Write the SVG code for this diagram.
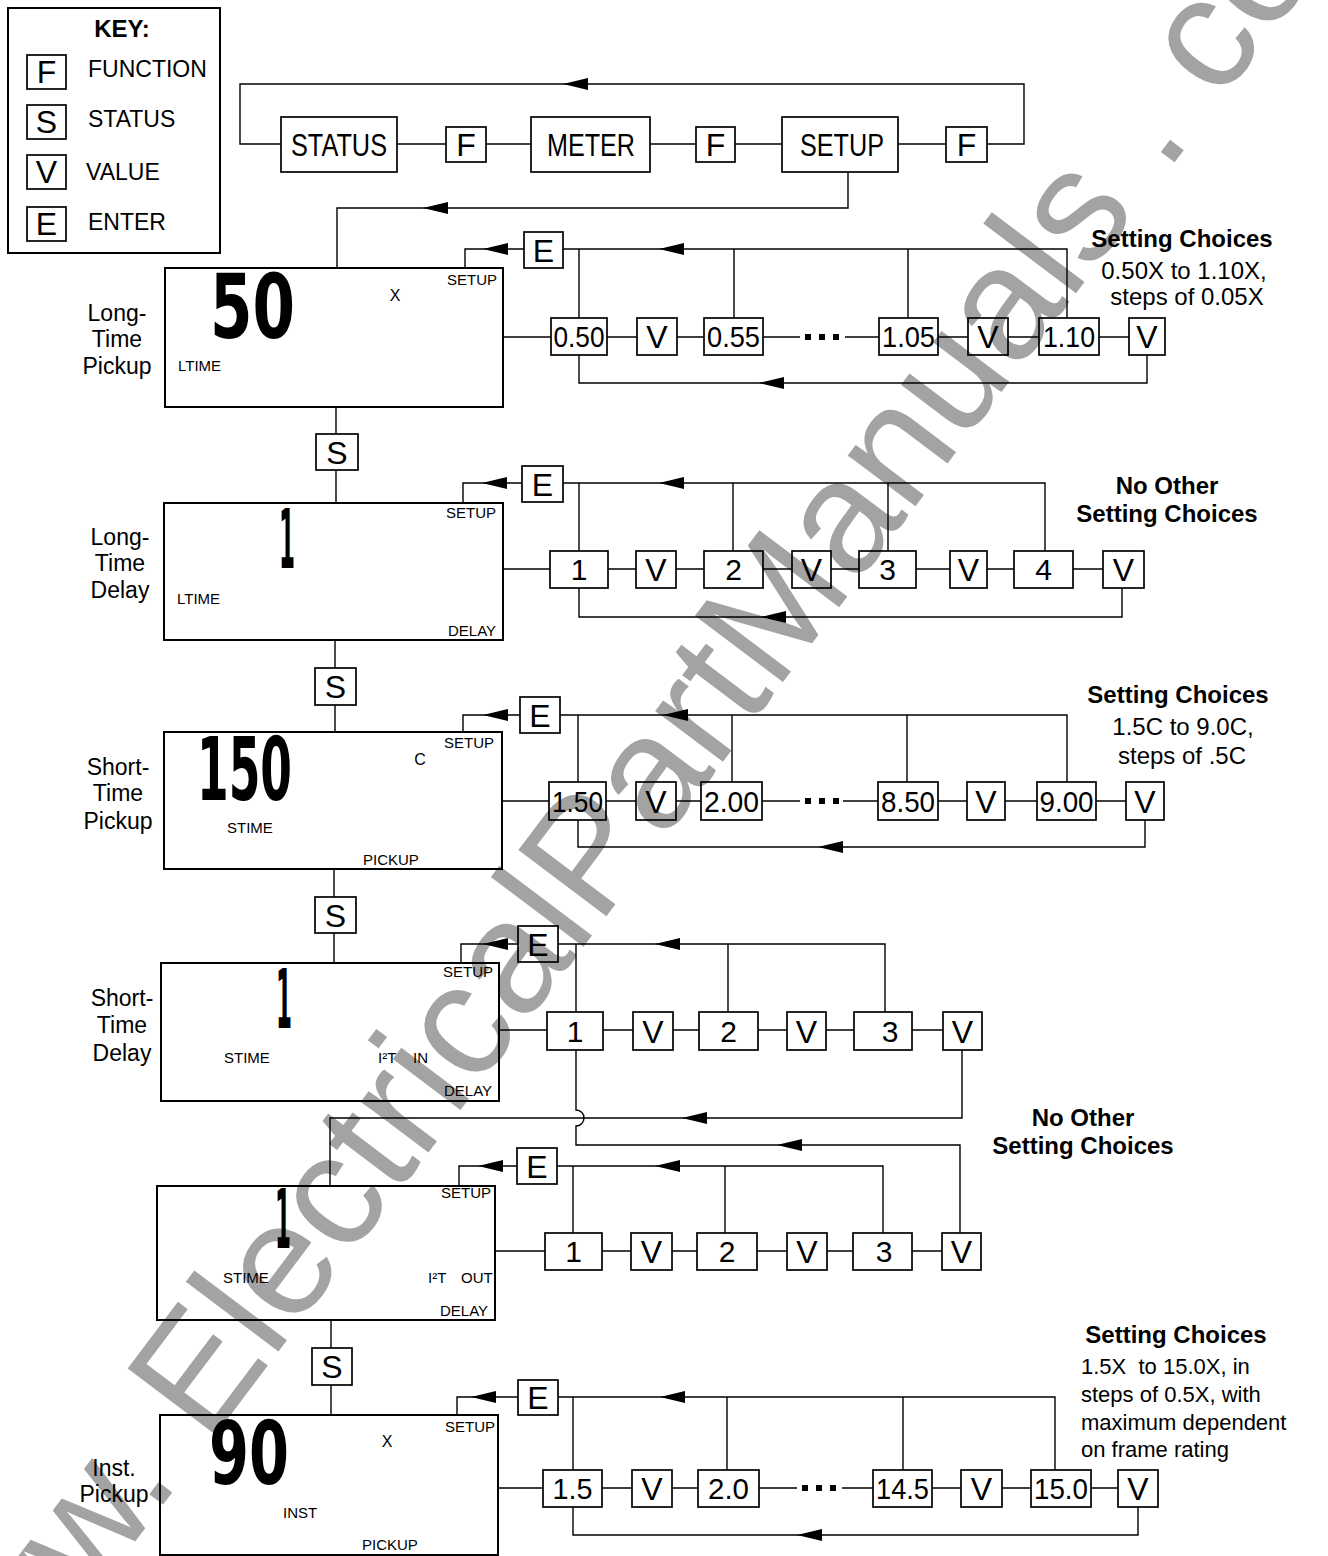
<svg xmlns="http://www.w3.org/2000/svg" width="1328" height="1556" viewBox="0 0 1328 1556">
<style>
text{font-family:"Liberation Sans",Arial,sans-serif;fill:#000}
.box{fill:none;stroke:#000;stroke-width:1.7}
.lcd{fill:none;stroke:#000;stroke-width:2}
.ln{fill:none;stroke:#000;stroke-width:1.4}
.k{font-size:32px;text-anchor:middle}
.n{font-size:30px;text-anchor:middle}
.big{font-size:32px;text-anchor:middle}
.lab{font-size:23px;text-anchor:middle}
.kl{font-size:23px}
.sm{font-size:15px}
.b{font-size:24px;font-weight:bold;text-anchor:middle}
.r{font-size:24px;text-anchor:middle}
.rl{font-size:22px}
.seg{font-family:"DejaVu Sans",sans-serif;font-weight:bold}
.wm{font-size:160px;fill:#a3a3a3}
</style>
<defs>
<path id="ah" d="M0 0 L25 -6 L25 6 Z" fill="#000"/>
</defs>
<text class="wm" transform="translate(-49,1786) rotate(-53)">www. ElectricalPartManuals . com</text>

<g id="key">
<rect class="lcd" x="8" y="8" width="212" height="245"/>
<text x="122" y="37" font-size="24" font-weight="bold" text-anchor="middle">KEY:</text>
<rect class="box" x="27" y="55" width="39" height="34"/><text class="k" x="46.5" y="83">F</text><text class="kl" x="88" y="77">FUNCTION</text>
<rect class="box" x="27" y="105" width="39" height="34"/><text class="k" x="46.5" y="133">S</text><text class="kl" x="88" y="127">STATUS</text>
<rect class="box" x="27" y="155" width="39" height="34"/><text class="k" x="46.5" y="183">V</text><text class="kl" x="86" y="180">VALUE</text>
<rect class="box" x="27" y="207" width="39" height="34"/><text class="k" x="46.5" y="235">E</text><text class="kl" x="88" y="230">ENTER</text>
</g>

<g id="connectors">
<!-- top loop -->
<path class="ln" d="M281 144 H240 V84 H1024 V144 H987 M397 144 H446 M486 144 H531 M650 144 H696 M735 144 H782 M898 144 H946 M848 172 V208 H337 V268"/>
<use href="#ah" x="563" y="84"/>
<use href="#ah" x="423" y="208"/>
<!-- row1 -->
<path class="ln" d="M465 268 V249 H524 M563 249 H1067 V318 M579 249 V318 M734 249 V318 M908 249 V318 M503 337 H551 M607 337 H637 M677 337 H704 M763 337 H800 M845 337 H879 M938 337 H968 M1008 337 H1039 M1099 337 H1129 M1147 355 V383 H579 V355 M336 407 V434 M336 470 V503"/>
<use href="#ah" x="483" y="249"/><use href="#ah" x="659" y="249"/><use href="#ah" x="759" y="383"/>
<!-- row2 -->
<path class="ln" d="M463 503 V483 H522 M563 483 H1045 V551 M579 483 V551 M733 483 V551 M888 483 V551 M503 569 H550 M608 569 H636 M676 569 H704 M763 569 H792 M831 569 H859 M916 569 H950 M987 569 H1014 M1073 569 H1103 M1122 588 V617 H579 V588 M335 640 V668 M335 705 V732"/>
<use href="#ah" x="482" y="483"/><use href="#ah" x="659" y="483"/><use href="#ah" x="761" y="617"/>
<!-- row3 -->
<path class="ln" d="M463 732 V715 H520 M560 715 H1067 V782 M578 715 V782 M732 715 V782 M907 715 V782 M502 801 H549 M606 801 H636 M676 801 H701 M762 801 H800 M843 801 H878 M938 801 H967 M1005 801 H1037 M1096 801 H1126 M1145 820 V847 H578 V820 M334 869 V897 M334 933 V963"/>
<use href="#ah" x="483" y="715"/><use href="#ah" x="663" y="715"/><use href="#ah" x="818" y="847"/>
<!-- row4 -->
<path class="ln" d="M461 963 V944 H518 M558 944 H885 V1012 M576 944 V1012 M728 944 V1012 M499 1030 H547 M603 1030 H633 M673 1030 H699 M758 1030 H787 M826 1030 H854 M912 1030 H943 M962 1050 V1118 H330 V1186 M576 1050 V1110 A8 8 0 0 1 576 1126 V1145 H960 V1233"/>
<use href="#ah" x="483" y="944"/><use href="#ah" x="655" y="944"/><use href="#ah" x="682" y="1118"/><use href="#ah" x="777" y="1145"/>
<!-- row5 -->
<path class="ln" d="M459 1186 V1166 H517 M557 1166 H883 V1233 M573 1166 V1233 M725 1166 V1233 M495 1251 H545 M602 1251 H631 M672 1251 H697 M757 1251 H787 M827 1251 H853 M912 1251 H942 M331 1320 V1348 M331 1385 V1415"/>
<use href="#ah" x="478" y="1166"/><use href="#ah" x="655" y="1166"/>
<!-- row6 -->
<path class="ln" d="M457 1415 V1397 H518 M558 1397 H1055 V1470 M573 1397 V1470 M727 1397 V1470 M903 1397 V1470 M498 1488 H543 M602 1488 H632 M672 1488 H698 M759 1488 H797 M842 1488 H873 M932 1488 H961 M1002 1488 H1031 M1091 1488 H1118 M1138 1507 V1535 H573 V1507"/>
<use href="#ah" x="471" y="1397"/><use href="#ah" x="660" y="1397"/><use href="#ah" x="797" y="1535"/>
</g>

<g id="top-row">
<g id="status"><rect class="box" x="281" y="117" width="116" height="55"/><text class="big" x="339" y="156" textLength="96" lengthAdjust="spacingAndGlyphs">STATUS</text></g>
<g id="f1"><rect class="box" x="446" y="127" width="40" height="35"/><text class="k" x="466" y="156">F</text></g>
<g id="meter"><rect class="box" x="531" y="117" width="119" height="55"/><text class="big" x="591" y="156" textLength="88" lengthAdjust="spacingAndGlyphs">METER</text></g>
<g id="f2"><rect class="box" x="696" y="127" width="39" height="35"/><text class="k" x="715.5" y="156">F</text></g>
<g id="setup"><rect class="box" x="782" y="117" width="116" height="55"/><text class="big" x="842" y="156" textLength="84" lengthAdjust="spacingAndGlyphs">SETUP</text></g>
<g id="f3"><rect class="box" x="946" y="127" width="41" height="35"/><text class="k" x="966.5" y="156">F</text></g>
</g>

<!-- Row 1 -->
<g id="lcd1">
<text class="lab" x="117" y="321">Long-</text><text class="lab" x="117" y="347">Time</text><text class="lab" x="117" y="374">Pickup</text>
<rect class="lcd" x="165" y="268" width="338" height="139"/>
<text class="seg" x="210" y="338" font-size="89" textLength="85" lengthAdjust="spacingAndGlyphs">50</text>
<text x="395" y="301" font-size="16" text-anchor="middle">X</text>
<text class="sm" x="447" y="285">SETUP</text>
<text class="sm" x="178" y="371">LTIME</text>
</g>
<g id="row1-nodes">
<g><rect class="box" x="524" y="232" width="39" height="36"/><text class="k" x="543.5" y="262">E</text></g>
<g><rect class="box" x="551" y="318" width="56" height="37"/><text class="n" x="579" y="347" textLength="51" lengthAdjust="spacingAndGlyphs">0.50</text></g>
<g><rect class="box" x="637" y="318" width="40" height="37"/><text class="k" x="657" y="348">V</text></g>
<g><rect class="box" x="704" y="318" width="59" height="37"/><text class="n" x="733.5" y="347" textLength="53" lengthAdjust="spacingAndGlyphs">0.55</text></g>
<rect x="805" y="334" width="6" height="6"/><rect x="819" y="334" width="6" height="6"/><rect x="833" y="334" width="6" height="6"/>
<g><rect class="box" x="879" y="318" width="59" height="37"/><text class="n" x="908.5" y="347" textLength="53" lengthAdjust="spacingAndGlyphs">1.05</text></g>
<g><rect class="box" x="968" y="318" width="40" height="37"/><text class="k" x="988" y="348">V</text></g>
<g><rect class="box" x="1039" y="318" width="60" height="37"/><text class="n" x="1069" y="347" textLength="52" lengthAdjust="spacingAndGlyphs">1.10</text></g>
<g><rect class="box" x="1129" y="318" width="36" height="37"/><text class="k" x="1147" y="348">V</text></g>
<text class="b" x="1182" y="247">Setting Choices</text>
<text class="r" x="1184" y="279">0.50X to 1.10X,</text>
<text class="r" x="1187" y="305">steps of 0.05X</text>
</g>
<g id="s1"><rect class="box" x="316" y="434" width="42" height="36"/><text class="k" x="337" y="464">S</text></g>

<!-- Row 2 -->
<g id="lcd2">
<text class="lab" x="120" y="545">Long-</text><text class="lab" x="120" y="571">Time</text><text class="lab" x="120" y="598">Delay</text>
<rect class="lcd" x="164" y="503" width="339" height="137"/>
<text class="seg" x="279" y="568" font-size="82" textLength="16" lengthAdjust="spacingAndGlyphs">1</text>
<text class="sm" x="446" y="518">SETUP</text>
<text class="sm" x="177" y="604">LTIME</text>
<text class="sm" x="448" y="636">DELAY</text>
</g>
<g id="row2-nodes">
<g><rect class="box" x="522" y="466" width="41" height="36"/><text class="k" x="542.5" y="496">E</text></g>
<g><rect class="box" x="550" y="551" width="58" height="37"/><text class="n" x="579" y="580">1</text></g>
<g><rect class="box" x="636" y="551" width="40" height="37"/><text class="k" x="656" y="581">V</text></g>
<g><rect class="box" x="704" y="551" width="59" height="37"/><text class="n" x="733.5" y="580">2</text></g>
<g><rect class="box" x="792" y="551" width="39" height="37"/><text class="k" x="811.5" y="581">V</text></g>
<g><rect class="box" x="859" y="551" width="57" height="37"/><text class="n" x="887.5" y="580">3</text></g>
<g><rect class="box" x="950" y="551" width="37" height="37"/><text class="k" x="968.5" y="581">V</text></g>
<g><rect class="box" x="1014" y="551" width="59" height="37"/><text class="n" x="1043.5" y="580">4</text></g>
<g><rect class="box" x="1103" y="551" width="41" height="37"/><text class="k" x="1123.5" y="581">V</text></g>
<text class="b" x="1167" y="494">No Other</text>
<text class="b" x="1167" y="522">Setting Choices</text>
</g>
<g id="s2"><rect class="box" x="315" y="668" width="41" height="37"/><text class="k" x="335.5" y="698">S</text></g>

<!-- Row 3 -->
<g id="lcd3">
<text class="lab" x="118" y="775">Short-</text><text class="lab" x="118" y="801">Time</text><text class="lab" x="118" y="829">Pickup</text>
<rect class="lcd" x="164" y="732" width="338" height="137"/>
<text class="seg" x="197" y="800" font-size="88" textLength="95" lengthAdjust="spacingAndGlyphs">150</text>
<text x="420" y="765" font-size="16" text-anchor="middle">C</text>
<text class="sm" x="444" y="748">SETUP</text>
<text class="sm" x="227" y="833">STIME</text>
<text class="sm" x="363" y="865">PICKUP</text>
</g>
<g id="row3-nodes">
<g><rect class="box" x="520" y="697" width="40" height="36"/><text class="k" x="540" y="727">E</text></g>
<g><rect class="box" x="549" y="782" width="57" height="38"/><text class="n" x="577.5" y="812" textLength="51" lengthAdjust="spacingAndGlyphs">1.50</text></g>
<g><rect class="box" x="636" y="782" width="40" height="38"/><text class="k" x="656" y="813">V</text></g>
<g><rect class="box" x="701" y="782" width="61" height="38"/><text class="n" x="731.5" y="812" textLength="55" lengthAdjust="spacingAndGlyphs">2.00</text></g>
<rect x="805" y="798" width="6" height="6"/><rect x="819" y="798" width="6" height="6"/><rect x="833" y="798" width="6" height="6"/>
<g><rect class="box" x="878" y="782" width="60" height="38"/><text class="n" x="908" y="812" textLength="54" lengthAdjust="spacingAndGlyphs">8.50</text></g>
<g><rect class="box" x="967" y="782" width="38" height="38"/><text class="k" x="986" y="813">V</text></g>
<g><rect class="box" x="1037" y="782" width="59" height="38"/><text class="n" x="1066.5" y="812" textLength="54" lengthAdjust="spacingAndGlyphs">9.00</text></g>
<g><rect class="box" x="1126" y="782" width="38" height="38"/><text class="k" x="1145" y="813">V</text></g>
<text class="b" x="1178" y="703">Setting Choices</text>
<text class="r" x="1183" y="735">1.5C to 9.0C,</text>
<text class="r" x="1182" y="764">steps of .5C</text>
</g>
<g id="s3"><rect class="box" x="315" y="897" width="41" height="36"/><text class="k" x="335.5" y="927">S</text></g>

<!-- Row 4 -->
<g id="lcd4">
<text class="lab" x="122" y="1006">Short-</text><text class="lab" x="122" y="1033">Time</text><text class="lab" x="122" y="1061">Delay</text>
<rect class="lcd" x="161" y="963" width="338" height="138"/>
<text class="seg" x="276" y="1028" font-size="82" textLength="16" lengthAdjust="spacingAndGlyphs">1</text>
<text class="sm" x="443" y="977">SETUP</text>
<text class="sm" x="224" y="1063">STIME</text>
<text class="sm" x="378" y="1063">I²T<tspan x="413">IN</tspan></text>
<text class="sm" x="444" y="1096">DELAY</text>
</g>
<g id="row4-nodes">
<g><rect class="box" x="518" y="926" width="40" height="36"/><text class="k" x="538" y="956">E</text></g>
<g><rect class="box" x="547" y="1012" width="56" height="38"/><text class="n" x="575" y="1042">1</text></g>
<g><rect class="box" x="633" y="1012" width="40" height="38"/><text class="k" x="653" y="1043">V</text></g>
<g><rect class="box" x="699" y="1012" width="59" height="38"/><text class="n" x="728.5" y="1042">2</text></g>
<g><rect class="box" x="787" y="1012" width="39" height="38"/><text class="k" x="806.5" y="1043">V</text></g>
<g><rect class="box" x="854" y="1012" width="58" height="38"/><text class="n" x="890" y="1042">3</text></g>
<g><rect class="box" x="943" y="1012" width="39" height="38"/><text class="k" x="962.5" y="1043">V</text></g>
<text class="b" x="1083" y="1126">No Other</text>
<text class="b" x="1083" y="1154">Setting Choices</text>
</g>

<!-- Row 5 -->
<g id="lcd5">
<rect class="lcd" x="157" y="1186" width="338" height="134"/>
<text class="seg" x="275" y="1248" font-size="82" textLength="16" lengthAdjust="spacingAndGlyphs">1</text>
<text class="sm" x="441" y="1198">SETUP</text>
<text class="sm" x="223" y="1283">STIME</text>
<text class="sm" x="428" y="1283">I²T<tspan x="461">OUT</tspan></text>
<text class="sm" x="440" y="1316">DELAY</text>
</g>
<g id="row5-nodes">
<g><rect class="box" x="517" y="1148" width="40" height="36"/><text class="k" x="537" y="1178">E</text></g>
<g><rect class="box" x="545" y="1233" width="57" height="37"/><text class="n" x="573.5" y="1262">1</text></g>
<g><rect class="box" x="631" y="1233" width="41" height="37"/><text class="k" x="651.5" y="1263">V</text></g>
<g><rect class="box" x="697" y="1233" width="60" height="37"/><text class="n" x="727" y="1262">2</text></g>
<g><rect class="box" x="787" y="1233" width="40" height="37"/><text class="k" x="807" y="1263">V</text></g>
<g><rect class="box" x="853" y="1233" width="59" height="37"/><text class="n" x="884" y="1262">3</text></g>
<g><rect class="box" x="942" y="1233" width="39" height="37"/><text class="k" x="961.5" y="1263">V</text></g>
</g>
<g id="s5"><rect class="box" x="312" y="1348" width="40" height="37"/><text class="k" x="332" y="1378">S</text></g>

<!-- Row 6 -->
<g id="lcd6">
<text class="lab" x="114" y="1476">Inst.</text><text class="lab" x="114" y="1502">Pickup</text>
<rect class="lcd" x="160" y="1415" width="338" height="140"/>
<text class="seg" x="209" y="1484" font-size="88" textLength="80" lengthAdjust="spacingAndGlyphs">90</text>
<text x="387" y="1447" font-size="16" text-anchor="middle">X</text>
<text class="sm" x="445" y="1432">SETUP</text>
<text class="sm" x="283" y="1518">INST</text>
<text class="sm" x="362" y="1550">PICKUP</text>
</g>
<g id="row6-nodes">
<g><rect class="box" x="518" y="1380" width="40" height="35"/><text class="k" x="538" y="1409">E</text></g>
<g><rect class="box" x="543" y="1470" width="59" height="37"/><text class="n" x="572.5" y="1499" textLength="40" lengthAdjust="spacingAndGlyphs">1.5</text></g>
<g><rect class="box" x="632" y="1470" width="40" height="37"/><text class="k" x="652" y="1500">V</text></g>
<g><rect class="box" x="698" y="1470" width="61" height="37"/><text class="n" x="728.5" y="1499" textLength="41" lengthAdjust="spacingAndGlyphs">2.0</text></g>
<rect x="802" y="1485" width="6" height="6"/><rect x="816" y="1485" width="6" height="6"/><rect x="830" y="1485" width="6" height="6"/>
<g><rect class="box" x="873" y="1470" width="59" height="37"/><text class="n" x="902.5" y="1499" textLength="53" lengthAdjust="spacingAndGlyphs">14.5</text></g>
<g><rect class="box" x="961" y="1470" width="41" height="37"/><text class="k" x="981.5" y="1500">V</text></g>
<g><rect class="box" x="1031" y="1470" width="60" height="37"/><text class="n" x="1061" y="1499" textLength="54" lengthAdjust="spacingAndGlyphs">15.0</text></g>
<g><rect class="box" x="1118" y="1470" width="40" height="37"/><text class="k" x="1138" y="1500">V</text></g>
<text class="b" x="1176" y="1343">Setting Choices</text>
<text class="rl" x="1081" y="1374" xml:space="preserve">1.5X  to 15.0X, in</text>
<text class="rl" x="1081" y="1402">steps of 0.5X, with</text>
<text class="rl" x="1081" y="1430">maximum dependent</text>
<text class="rl" x="1081" y="1457">on frame rating</text>
</g>
</svg>
